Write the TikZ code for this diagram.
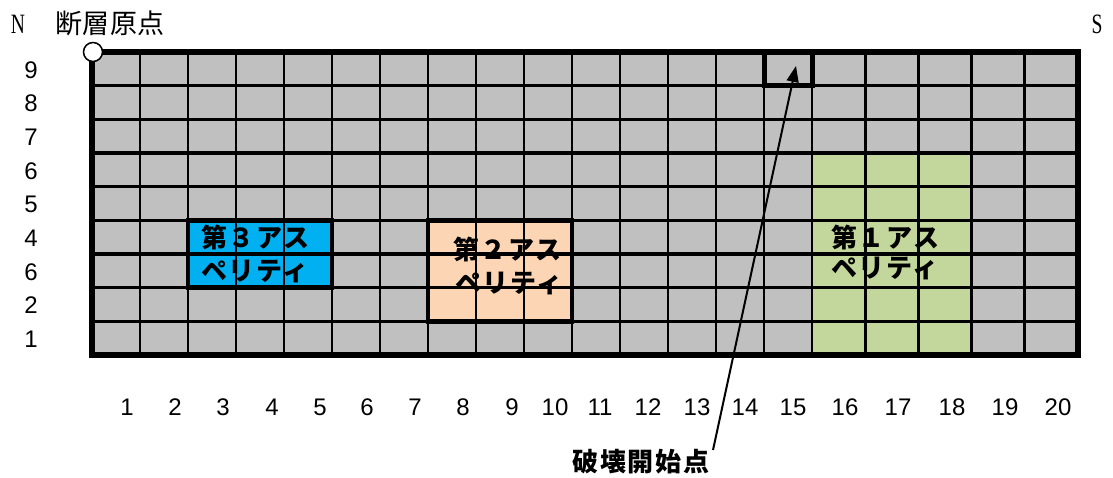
\documentclass[tikz,border=0pt]{standalone}
\usepackage{fontspec}
\setmainfont{Liberation Sans}
\newfontfamily\jpfont{Noto Sans CJK JP}
\newfontfamily\jpls[LetterSpace=6]{Noto Sans CJK JP}
\newfontfamily\jplt[LetterSpace=2]{Noto Sans CJK JP}
\newfontfamily\serifN{Liberation Serif}
\usetikzlibrary{arrows.meta}
\definecolor{cellgray}{RGB}{192,192,192}
\definecolor{aspblue}{RGB}{0,176,240}
\definecolor{asporange}{RGB}{252,213,181}
\definecolor{aspgreen}{RGB}{195,214,155}
\tikzset{
  gridv/.style={line width=2.8pt,black},
  gridh/.style={line width=3.6pt,black},
  aspbox/.style={line width=4.5pt,black},
  rowlab/.style={inner sep=0pt,font=\fontsize{24}{24}\selectfont},
  collab/.style={inner sep=0pt,font=\fontsize{24}{24}\selectfont},
  asplab/.style={inner sep=0pt,anchor=west,font=\jpls\bfseries\fontsize{26}{26}\selectfont},
  nslab/.style={inner sep=0pt,font=\serifN\fontsize{28}{28}\selectfont},
}
\begin{document}
\begin{tikzpicture}[x=1pt,y=-1pt]
\useasboundingbox (0,0) rectangle (1113,477);
% fills
\fill[cellgray] (92,52) rectangle (1078,355);
\fill[aspgreen] (812,153.33) rectangle (971.6,355);
\fill[aspblue] (188,220.33) rectangle (332,287.67);
\fill[asporange] (428,220.33) rectangle (572,321.33);
% grid
\foreach \x in {140,188,...,812} \draw[gridv] (\x,52) -- (\x,355);
\foreach \x in {865.2,918.4,971.6,1024.8} \draw[gridv] (\x,52) -- (\x,355);
\foreach \k in {1,...,8} \draw[gridh] (92,{52+33.667*\k}) -- (1078,{52+33.667*\k});
% asperity outlines
\draw[aspbox] (188,220.33) rectangle (332,287.67);
\draw[aspbox] (428,220.33) rectangle (572,321.33);
% hypocentre cell
\node[draw,line width=5pt,minimum width=48pt,minimum height=33.7pt,inner sep=0pt] (hypo) at (788,68.8) {};
\coordinate (tip) at (796,66);
% outer border
\draw[line width=5.5pt] (92,52) rectangle (1078,355);
% origin circle
\node[circle,draw,fill=white,line width=1.5pt,minimum size=19pt,inner sep=0pt] (origin) at (93,52) {};
% top labels
\node[nslab] (N) at (18,24) {\scalebox{0.7}[1]{N}};
\node[nslab] (S) at (1097,24) {\scalebox{0.7}[1]{S}};
\node[inner sep=0pt,font=\jplt\fontsize{27}{27}\selectfont] (orig) at (110,23) {断層原点};
% row labels
\foreach \lab [count=\i from 0] in {9,8,7,6,5,4,6,2,1}
  \node[rowlab] (r\i) at (31,{52+33.667*(\i+0.5)+1}) {\lab};
% column labels
\foreach \xx [count=\i] in {127,175,223,272,320,367,415,463,512,555,600,648,697,745,793,845,898,952,1005,1058}
  \node[collab] (c\i) at (\xx,407) {\i};
% asperity labels
\node[asplab] (a3a) at (201,237) {第３アス};
\node[asplab] (a3b) at (201,271) {ペリティ};
\node[asplab] (a2a) at (453,249) {第２アス};
\node[asplab] (a2b) at (455,283) {ペリティ};
\node[asplab] (a1a) at (831,237) {第１アス};
\node[asplab] (a1b) at (831,268) {ペリティ};
% rupture start label and arrow
\node[inner sep=0pt,font=\jpls\bfseries\fontsize{26}{26}\selectfont] (start) at (641,462) {破壊開始点};
\coordinate (tail) at (713,450);
\draw[line width=2pt,-{Triangle[length=16pt,width=12pt]}] (tail) -- (tip);
\end{tikzpicture}
\end{document}
